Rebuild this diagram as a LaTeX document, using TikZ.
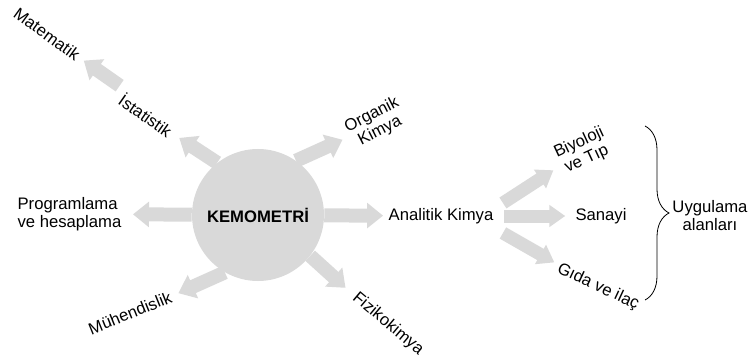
\documentclass[tikz,border=0pt]{standalone}
\usepackage{fontspec}
\setmainfont{Liberation Sans}
\usetikzlibrary{arrows.meta, decorations.pathreplacing}
\definecolor{arrowgray}{RGB}{217,217,217}

\begin{document}
\begin{tikzpicture}[x=0.75pt, y=-0.75pt,
		lbl/.style={font=\fontsize{12.5}{13.5}\selectfont, inner sep=1pt, align=center},
		bigarrow/.style={draw=arrowgray, line width=10.5pt, -{Triangle[length=12pt, width=18.5pt]}},
		smallarrow/.style={draw=arrowgray, line width=9.75pt, -{Triangle[length=12pt, width=16pt]}}]
			\useasboundingbox (0,0) rectangle (749,356);
			\node[lbl, circle, fill=arrowgray, minimum size=99pt, inner sep=0pt, font=\fontsize{12.5}{13.5}\selectfont\bfseries] (kemo) at (258,215) {KEMOMETRİ};
			\node[lbl, anchor=west, align=left] (prog) at (16,214) {Programlama\\ve hesaplama};
			\node[lbl, rotate=-35] (istat) at (146,115) {İstatistik};
			\node[lbl, rotate=-36] (mat) at (47,34) {Matematik};
			\node[lbl, rotate=27] (org) at (376,123) {Organik\\Kimya};
			\node[lbl, rotate=22] (muh) at (130,313) {Mühendislik};
			\node[lbl, rotate=-40] (fiz) at (388,324) {Fizikokimya};
			\node[lbl] (anal) at (441,216) {Analitik Kimya};
			\node[lbl, rotate=25] (bio) at (583,151) {Biyoloji\\ve Tıp};
			\node[lbl] (san) at (601,216) {Sanayi};
			\node[lbl, rotate=-25] (gida) at (598,287) {Gıda ve ilaç};
			\node[lbl] (uyg) at (710,216) {Uygulama\\alanları};
			\draw[bigarrow, shorten >=3pt] (kemo) -- (anal);
			\draw[bigarrow, shorten >=7.5pt] (kemo) -- (prog);
			\draw[bigarrow, shorten >=6.5pt] (kemo.128) -- (istat.east);
			\draw[bigarrow, shorten <=5pt, shorten >=4pt] (istat.north west) -- (mat.east);
			\draw[bigarrow, shorten >=5pt] (kemo.55) -- (org.west);
			\draw[bigarrow, shorten >=5pt] (kemo.240) -- (muh.east);
			\draw[bigarrow, shorten >=8pt] (kemo.-38) -- (fiz.west);
			\draw[smallarrow, shorten >=2pt] ([shift={(8,-13)}]anal.east) -- ([shift={(-2,6)}]bio.west);
			\draw[smallarrow, shorten <=7pt, shorten >=6.5pt] (anal.east) -- (san.west);
			\draw[smallarrow, shorten >=2pt] ([shift={(8,17)}]anal.east) -- ([shift={(0,-4)}]gida.west);
			\coordinate (btop) at (645,126);
			\coordinate (bbot) at (645,300);
			\draw[decorate, decoration={brace, amplitude=18pt}, line width=0.6pt] (btop) -- (bbot);
		\end{tikzpicture}
\end{document}
